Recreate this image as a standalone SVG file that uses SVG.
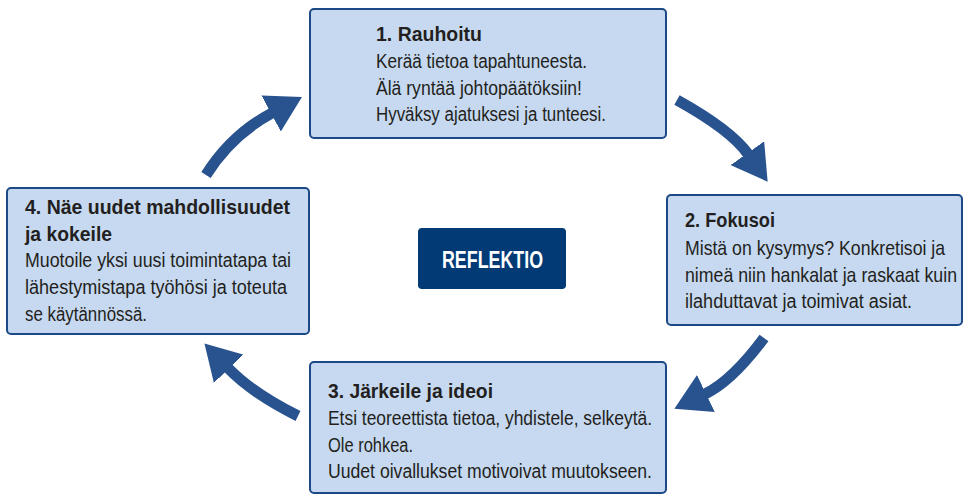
<svg xmlns="http://www.w3.org/2000/svg" width="964" height="496" viewBox="0 0 964 496">
<defs>
<style>
.box{fill:#c6d9f0;stroke:#1d4a86;stroke-width:2}
.t{font-family:"Liberation Sans",Arial,sans-serif;font-size:21px;font-weight:bold;fill:#231f20}
.b{font-family:"Liberation Sans",Arial,sans-serif;font-size:20px;fill:#231f20}
.arr{fill:none;stroke:#29538f;stroke-width:11}
</style>
<marker id="head" markerUnits="userSpaceOnUse" viewBox="0 0 35 41" refX="1" refY="20.5" markerWidth="35" markerHeight="41" orient="auto">
<path d="M0,0 L35,20.5 L0,41 Z" fill="#29538f"/>
</marker>
</defs>
<rect width="964" height="496" fill="#ffffff"/>
<g id="connectors">
<path class="arr" d="M677,100 Q731,130 748,154" marker-end="url(#head)"/>
<path class="arr" d="M764,338 Q732,381 705,394" marker-end="url(#head)"/>
<path class="arr" d="M298,416 Q252,393 228,368" marker-end="url(#head)"/>
<path class="arr" d="M206,175 Q231,135 272,113" marker-end="url(#head)"/>
</g>
<g id="node1">
<rect class="box" x="310" y="9" width="356" height="129" rx="4"/>
<text class="t" x="376" y="41" textLength="106" lengthAdjust="spacingAndGlyphs">1. Rauhoitu</text>
<text class="b" x="376" y="68" textLength="211" lengthAdjust="spacingAndGlyphs">Kerää tietoa tapahtuneesta.</text>
<text class="b" x="376" y="95" textLength="206" lengthAdjust="spacingAndGlyphs">Älä ryntää johtopäätöksiin!</text>
<text class="b" x="376" y="121" textLength="230" lengthAdjust="spacingAndGlyphs">Hyväksy ajatuksesi ja tunteesi.</text>
</g>
<g id="node2">
<rect class="box" x="667" y="195" width="295" height="130" rx="4"/>
<text class="t" x="685" y="227" textLength="90" lengthAdjust="spacingAndGlyphs">2. Fokusoi</text>
<text class="b" transform="translate(685,255) scale(0.85,1)" x="0" y="0" textLength="306" lengthAdjust="spacingAndGlyphs">Mistä on kysymys? Konkretisoi ja</text>
<text class="b" transform="translate(685,282) scale(0.85,1)" x="0" y="0" textLength="320" lengthAdjust="spacingAndGlyphs">nimeä niin hankalat ja raskaat kuin</text>
<text class="b" x="685" y="308" textLength="227" lengthAdjust="spacingAndGlyphs">ilahduttavat ja toimivat asiat.</text>
</g>
<g id="node3">
<rect class="box" x="310" y="362" width="356" height="131" rx="4"/>
<text class="t" x="328" y="398" textLength="165" lengthAdjust="spacingAndGlyphs">3. Järkeile ja ideoi</text>
<text class="b" x="328" y="425" textLength="324" lengthAdjust="spacingAndGlyphs">Etsi teoreettista tietoa, yhdistele, selkeytä.</text>
<text class="b" x="328" y="452" textLength="85" lengthAdjust="spacingAndGlyphs">Ole rohkea.</text>
<text class="b" x="328" y="478" textLength="324" lengthAdjust="spacingAndGlyphs">Uudet oivallukset motivoivat muutokseen.</text>
</g>
<g id="node4">
<rect class="box" x="7" y="188" width="302" height="146" rx="4"/>
<text class="t" x="25" y="214" textLength="265" lengthAdjust="spacingAndGlyphs">4. Näe uudet mahdollisuudet</text>
<text class="t" x="25" y="241" textLength="87" lengthAdjust="spacingAndGlyphs">ja kokeile</text>
<text class="b" x="25" y="267" textLength="266" lengthAdjust="spacingAndGlyphs">Muotoile yksi uusi toimintatapa tai</text>
<text class="b" x="25" y="294" textLength="262" lengthAdjust="spacingAndGlyphs">lähestymistapa työhösi ja toteuta</text>
<text class="b" x="25" y="321" textLength="122" lengthAdjust="spacingAndGlyphs">se käytännössä.</text>
</g>
<g id="center">
<rect x="418" y="228" width="148" height="61" rx="4" fill="#023a76"/>
<text x="442" y="268" textLength="101" lengthAdjust="spacingAndGlyphs" font-family="Liberation Sans, Arial, sans-serif" font-size="24" font-weight="bold" fill="#ffffff">REFLEKTIO</text>
</g>
</svg>
